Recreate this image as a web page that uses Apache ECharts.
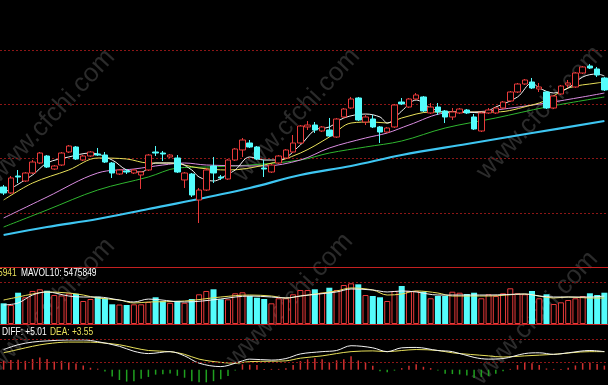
<!DOCTYPE html>
<html><head><meta charset="utf-8">
<script src="https://cdn.jsdelivr.net/npm/echarts@6/dist/echarts.min.js"></script>
<style>html,body{margin:0;padding:0;background:#000;}#c{width:608px;height:385px;}</style>
</head><body><div id="c"></div>
<script>
// ---- DATA ----
// candles: [open, close, low, high]
const candles = [
[14.75,13.64,13.27,15.12],[13.64,16.41,13.46,16.77],[16.77,16.59,15.48,17.88],[15.85,17.33,15.67,17.51],
[17.33,19.35,17.14,19.72],[19.17,21.01,18.99,21.20],[20.46,18.43,18.25,20.64],[18.06,18.62,17.88,18.80],
[18.80,21.01,18.62,21.20],[21.20,22.30,21.01,22.49],[22.12,19.91,19.72,22.30],[19.72,20.46,19.54,20.64],
[20.46,21.20,20.28,21.38],[20.83,20.64,20.46,21.94],[20.64,19.35,19.17,21.20],[19.17,17.33,16.41,19.35],
[17.14,17.88,16.96,18.06],[17.70,17.51,17.14,18.06],[17.33,17.88,17.14,18.06],[16.96,17.51,14.38,17.70],
[17.88,20.64,17.70,20.83],[21.20,21.01,20.46,22.30],[21.01,20.83,19.54,21.38],[20.28,20.64,20.09,20.83],
[20.09,17.51,17.33,20.64],[16.04,17.33,14.56,17.51],[17.14,13.27,12.90,17.33],[12.35,14.19,8.11,14.56],
[14.19,17.88,14.01,18.25],[18.62,17.33,15.48,20.28],[16.59,16.41,16.04,16.96],[16.22,19.72,16.04,19.91],
[19.72,21.75,19.54,21.94],[21.57,23.41,20.28,23.78],[22.86,22.12,21.94,23.41],[22.12,19.91,19.72,22.30],
[18.25,18.06,16.59,19.72],[17.51,18.80,17.33,18.99],[19.17,20.46,18.99,20.64],[20.09,21.57,19.91,21.75],
[21.20,22.86,21.01,24.33],[22.86,25.99,22.67,26.17],[25.81,26.17,25.25,26.91],[26.17,25.25,24.70,26.73],
[25.07,25.81,24.88,25.99],[25.25,24.15,23.96,27.47],[23.96,27.28,23.78,27.47],[27.65,29.12,27.47,29.31],
[29.31,30.97,29.12,31.34],[31.15,27.10,26.91,31.34],[26.73,27.65,26.17,28.02],[27.28,25.81,25.62,28.02],
[25.81,24.88,22.86,25.99],[24.88,25.62,24.70,25.81],[25.81,29.86,25.62,30.05],[30.41,30.05,29.86,31.15],
[29.49,30.97,29.31,31.15],[30.97,31.71,30.78,32.07],[31.34,28.76,28.57,31.52],[28.39,29.49,28.20,30.23],
[29.49,28.57,28.02,30.23],[28.76,27.65,26.54,28.94],[27.65,28.57,27.10,29.31],[28.39,29.12,28.20,29.31],
[28.94,28.39,28.20,29.12],[27.65,25.44,25.25,28.20],[25.07,28.39,24.88,28.57],[28.39,28.94,28.20,29.31],
[28.39,29.31,28.20,29.49],[29.31,30.41,29.12,30.60],[30.60,32.26,30.41,32.44],[32.26,33.73,32.07,33.92],
[33.73,34.47,33.55,34.65],[34.10,33.00,32.81,34.84],[32.81,33.18,32.26,33.92],[32.26,29.31,29.12,32.44],
[29.31,31.52,29.12,31.71],[31.89,33.36,31.71,33.55],[33.55,33.92,33.00,34.47],[33.18,35.76,33.00,35.94],
[35.76,36.87,35.58,37.05],[37.05,36.68,36.50,37.42],[36.50,35.39,35.02,36.87],[34.84,32.63,32.44,35.02]
];
const categories = candles.map((_, i) => 'D' + (i + 1));

const volumes = [
3940000,3620000,5960000,5090000,6290000,6610000,6340000,5520000,5430000,5810000,
5750000,4380000,4760000,5200000,4900000,3750000,3710000,3620000,3750000,3750000,
4190000,5090000,4320000,4040000,4420000,4040000,4760000,5660000,6290000,6610000,
4700000,4700000,5850000,6040000,5330000,5010000,4760000,3940000,4900000,4900000,
5660000,6480000,6480000,6610000,5960000,6910000,6480000,7430000,7750000,7560000,
5520000,5330000,5090000,4380000,6290000,7240000,6290000,6290000,6150000,4900000,
5330000,5330000,6150000,5960000,5710000,5960000,4900000,5660000,5330000,5850000,
6800000,5850000,5660000,6290000,4900000,5660000,3810000,4130000,4570000,4900000,
5330000,5850000,5520000,5960000
];

// moving averages: [candle index, price]
const ma5 = [[0,13.64],[4,16.96],[6,19.17],[9,20.28],[12,21.01],[15,19.72],[17,17.88],[19,17.51],[21,19.17],[24,19.17],
[26,17.88],[27,16.59],[29,15.85],[31,17.14],[32,17.88],[34,20.28],[36,19.72],[38,19.72],[41,22.49],[43,25.25],[45,25.81],
[47,27.47],[50,28.20],[52,27.65],[53,26.54],[55,28.76],[57,30.78],[59,29.31],[61,28.57],[64,28.57],[66,28.39],[68,29.49],
[71,31.34],[73,33.92],[74,33.00],[76,32.07],[78,33.00],[80,35.02],[82,35.58],[83,35.21]];
const ma10 = [[0,12.35],[4,15.48],[9,17.88],[13,20.09],[17,19.91],[20,19.17],[23,19.17],[27,18.25],[31,17.88],[36,18.80],
[41,21.01],[45,23.96],[48,26.54],[51,26.73],[53,26.54],[55,27.47],[59,28.57],[64,28.57],[68,28.57],[73,29.86],[75,30.78],
[78,33.00],[82,33.92],[83,34.10]];
const ma20 = [[0,9.03],[6,12.90],[13,17.33],[18,18.06],[22,18.80],[25,19.17],[28,18.80],[36,18.62],[41,19.72],[45,21.94],
[50,23.78],[53,24.70],[56,26.17],[61,28.39],[65,28.57],[68,28.94],[75,30.23],[80,31.34],[83,32.07]];
const ma30 = [[0,7.37],[6,10.51],[13,14.19],[20,16.59],[24,18.25],[28,18.43],[34,18.80],[41,19.72],[45,21.01],[50,22.12],
[55,23.23],[61,25.62],[68,27.47],[75,29.49],[83,31.34]];
const ma60 = [[0,5.90],[6,7.37],[13,8.85],[20,10.69],[27,12.53],[34,14.56],[41,16.96],[48,18.62],[55,20.64],[64,22.67],
[73,24.70],[83,26.91]];

// volume averages (read): [index, volume]
const volMaA = [[0,3620000],[2,4000000],[4,5520000],[6,6100000],[9,5330000],[11,5140000],[13,5140000],[16,4570000],
[18,4190000],[20,4750000],[25,4190000],[30,4760000],[32,5140000],[34,5330000],[37,5140000],[39,4950000],[41,5330000],
[46,6100000],[48,6670000],[51,6480000],[53,6100000],[55,6290000],[57,6100000],[60,5520000],[62,5520000],[67,5520000],
[72,5710000],[74,5330000],[76,5140000],[78,5140000],[81,5140000],[83,5330000]];
const volMaB = [[0,4570000],[2,5140000],[4,5710000],[6,6100000],[9,5900000],[11,5520000],[13,4950000],[16,4570000],
[18,4000000],[20,4190000],[25,4380000],[30,5140000],[34,5520000],[37,5330000],[39,4950000],[41,5330000],[46,6290000],
[48,6860000],[51,6480000],[53,5520000],[55,5710000],[57,6290000],[60,5900000],[62,5330000],[67,5330000],[72,5710000],
[76,4950000],[78,5140000],[81,4950000],[83,4950000]];

// MACD
const macdHist = [
2.3,2.5,2.6,2.3,2.8,3.2,2.8,2.1,2.3,2.0,1.6,1.1,0.5,0.25,-0.5,-1.75,-2.7,-3.1,-3.0,-2.4,
-1.9,-1.3,-1.2,-1.0,-1.6,-2.1,-3.0,-3.3,-3.3,-3.0,-2.5,-1.65,-0.2,1.4,1.3,1.2,0.2,0.2,0.2,0.4,
1.2,2.25,2.7,3.0,2.7,2.0,2.45,2.75,3.5,2.4,1.8,1.0,-0.4,-0.7,-0.25,0.4,1.05,1.4,0.75,0.4,
-0.2,-1.05,-1.15,-1.25,-1.55,-2.2,-1.9,-1.7,-1.05,-0.4,0.2,1.2,1.85,1.7,1.2,0.3,0.2,0.2,0.5,1.1,
1.7,1.85,1.45,1.05];
const diffLine = [[0,5.25],[2,6.5],[4,7.2],[6,7.5],[9,7.75],[11,7.75],[13,7.3],[16,6.1],[18,4.8],[20,4.2],[23,4.7],
[25,3.6],[27,1.7],[30,0.8],[31,1.1],[33,2.3],[34,2.75],[37,2.5],[39,2.9],[41,4.1],[44,4.7],[46,5.0],[48,6.25],[51,5.7],
[53,4.7],[55,5.7],[57,5.8],[60,5.0],[62,4.7],[65,3.2],[67,2.75],[69,2.9],[72,4.2],[74,4.4],[76,4.0],[78,4.4],[81,5.0],[83,4.7]];
const deaLine = [[0,4.4],[2,5.25],[4,6.1],[6,6.75],[9,7.2],[11,7.2],[13,7.1],[16,6.5],[18,5.7],[20,5.0],[23,4.7],
[25,4.0],[27,2.75],[30,1.9],[32,1.7],[34,2.1],[37,2.2],[39,2.3],[41,3.0],[44,3.6],[46,4.2],[48,4.7],[51,4.9],[53,4.7],
[55,5.0],[57,5.25],[60,5.0],[62,4.4],[67,3.6],[69,3.3],[72,3.6],[76,4.0],[81,4.7],[83,4.7]];

const priceRange = [0, 40, 10];
const volRange = [0, 8000000];
const macdRange = [-4, 8];
const macdGuides = [2, 8];
const labels = { mavolCut: '5941', mavol10: 'MAVOL10: 5475849', diff: 'DIFF: +5.01', dea: 'DEA: +3.55' };
const watermark = 'www.cfchi.com';

// ---- STYLE ----
const RED = '#e83a3a', CYAN = '#54fcfc', GREEN = '#1fa01f';
const GRIDRED = '#8c1616', SOLIDRED = '#c42020';

const volData = volumes.map((v, i) => {
  const up = candles[i][1] >= candles[i][0];
  return { value: v, itemStyle: up ? { color: '#000', borderColor: RED, borderWidth: 1 } : { color: CYAN, borderColor: CYAN, borderWidth: 0 } };
});
const histData = macdHist.map(v => ({ value: v, itemStyle: { color: v >= 0 ? '#d03030' : GREEN } }));

function maLine(data, color, width, xi, yi) {
  return { type: 'line', data, xAxisIndex: xi, yAxisIndex: yi, smooth: 0.35, showSymbol: false, silent: true,
    lineStyle: { color, width }, z: 3 };
}
const wmPos = [[52,116],[297,115],[540,113],[52,305],[290,300],[535,318]];
const graphics = wmPos.map(p => ({ type: 'text', x: p[0], y: p[1], rotation: 47 * Math.PI / 180, z: -10,
  style: { text: watermark, fill: '#2b2b2b', font: '26px "Liberation Sans", Arial, sans-serif', align: 'center', verticalAlign: 'middle' } }));
const f = '10.5px "Liberation Sans", Arial, sans-serif';
const sx = 0.8;
graphics.push(
  { type: 'text', x: -2, y: 273.5, scaleX: sx, z: 10, style: { text: labels.mavolCut, fill: '#e8e05a', font: f, verticalAlign: 'middle' } },
  { type: 'text', x: 21, y: 273.5, scaleX: sx, z: 10, style: { text: labels.mavol10, fill: '#ffffff', font: f, verticalAlign: 'middle' } },
  { type: 'text', x: 2, y: 332, scaleX: sx, z: 10, style: { text: labels.diff, fill: '#ffffff', font: f, verticalAlign: 'middle' } },
  { type: 'text', x: 50, y: 332, scaleX: sx, z: 10, style: { text: labels.dea, fill: '#e8e05a', font: f, verticalAlign: 'middle' } }
);

const chart = echarts.init(document.getElementById('c'), null, { renderer: 'canvas' });
const hiddenY = { axisLine: { show: false }, axisTick: { show: false }, axisLabel: { show: false } };
chart.setOption({
  backgroundColor: '#000',
  animation: false,
  graphic: graphics,
  grid: [
    { left: 0, right: -2, top: 50, height: 217 },
    { left: 0, right: -2, top: 282, height: 42 },
    { left: 0, right: -2, top: 339, height: 48 }
  ],
  xAxis: [0, 1, 2].map(g => ({
    type: 'category', data: categories, gridIndex: g, boundaryGap: true,
    axisLine: { show: g < 2, lineStyle: { color: SOLIDRED, width: 1 } },
    axisTick: { show: false }, axisLabel: { show: false }, splitLine: { show: false }
  })),
  yAxis: [
    Object.assign({ gridIndex: 0, type: 'value', min: priceRange[0], max: priceRange[1], interval: priceRange[2],
      splitLine: { lineStyle: { color: GRIDRED, type: [2, 2] } } }, hiddenY),
    Object.assign({ gridIndex: 1, type: 'value', min: volRange[0], max: volRange[1], interval: volRange[1],
      splitLine: { lineStyle: { color: GRIDRED, type: [2, 2] } } }, hiddenY),
    Object.assign({ gridIndex: 2, type: 'value', min: macdRange[0], max: macdRange[1], splitLine: { show: false } }, hiddenY)
  ],
  series: [
    { type: 'candlestick', data: candles, xAxisIndex: 0, yAxisIndex: 0, barWidth: 6, barMaxWidth: 6, silent: true, z: 4,
      itemStyle: { color: '#000', color0: CYAN, borderColor: RED, borderColor0: CYAN, borderWidth: 1 } },
    maLine(ma60, '#3ec6f2', 2.2, 0, 0),
    maLine(ma30, '#2fb52f', 1, 0, 0),
    maLine(ma20, '#d98ce0', 1, 0, 0),
    maLine(ma10, '#e8e05a', 1, 0, 0),
    maLine(ma5, '#f2f2f2', 1, 0, 0),
    { type: 'bar', data: volData, xAxisIndex: 1, yAxisIndex: 1, barWidth: 6, silent: true, z: 2 },
    maLine(volMaB, '#e8e05a', 1, 1, 1),
    maLine(volMaA, '#f2f2f2', 1, 1, 1),
    { type: 'bar', data: histData, xAxisIndex: 2, yAxisIndex: 2, barWidth: 1.5, silent: true, z: 2,
      markLine: { silent: true, symbol: 'none', label: { show: false },
        lineStyle: { color: GRIDRED, type: [2, 2], width: 1 }, data: macdGuides.map(v => ({ yAxis: v })) } },
    maLine(deaLine, '#e8e05a', 1, 2, 2),
    maLine(diffLine, '#f2f2f2', 1, 2, 2)
  ]
});
</script></body></html>
